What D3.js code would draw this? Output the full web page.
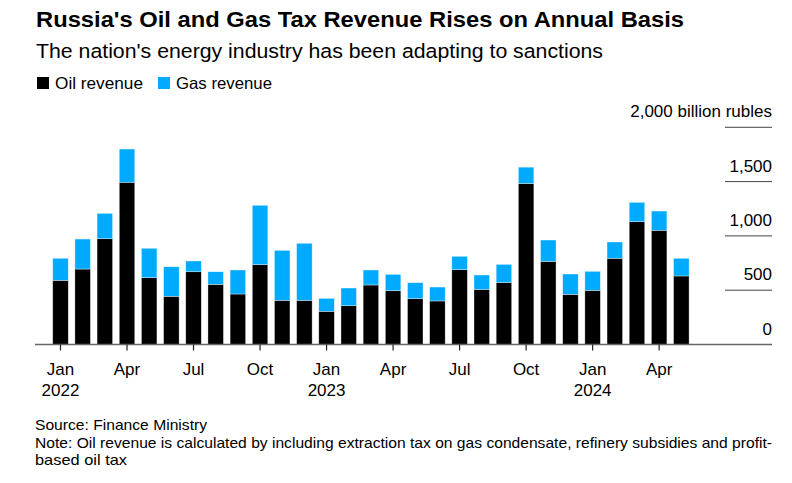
<!DOCTYPE html>
<html>
<head>
<meta charset="utf-8">
<script src="https://cdn.jsdelivr.net/npm/d3@7"></script>
<style>
  html, body { margin: 0; padding: 0; background: #fff; }
  svg { display: block; font-family: "Liberation Sans", Arial, Helvetica, sans-serif; }
</style>
</head>
<body>
<svg id="chart" width="792" height="483"></svg>
<script>
// ---- Data (billion rubles), Jan 2022 – May 2024 ----
const months = [
  "2022-01","2022-02","2022-03","2022-04","2022-05","2022-06","2022-07","2022-08","2022-09","2022-10","2022-11","2022-12",
  "2023-01","2023-02","2023-03","2023-04","2023-05","2023-06","2023-07","2023-08","2023-09","2023-10","2023-11","2023-12",
  "2024-01","2024-02","2024-03","2024-04","2024-05"
];
const oilRevenue = [591,695,974,1494,615,444,670,554,465,735,407,407,306,357,548,495,422,401,689,508,571,1483,766,462,499,794,1131,1052,631];
const gasRevenue = [203,276,234,306,271,272,99,116,221,547,460,525,119,163,138,151,147,128,123,132,167,150,196,187,175,150,178,177,163];
const seriesNames = ["Oil revenue", "Gas revenue"];
const seriesColors = ["#000000", "#00aaff"];
const yTicks = [0, 500, 1000, 1500, 2000];
const monthTickNames = {"01": "Jan", "04": "Apr", "07": "Jul", "10": "Oct"};

const title = "Russia's Oil and Gas Tax Revenue Rises on Annual Basis";
const subtitle = "The nation's energy industry has been adapting to sanctions";
const sourceText = "Source: Finance Ministry";
const noteLines = [
  "Note: Oil revenue is calculated by including extraction tax on gas condensate, refinery subsidies and profit-",
  "based oil tax"
];

// ---- Build table ----
const table = months.map((m, i) => ({ month: m, oil: oilRevenue[i], gas: gasRevenue[i] }));
const stack = d3.stack().keys(["oil", "gas"])(table);

const svg = d3.select("#chart");

// Scales
const x = d3.scaleBand().domain(months).range([49.4, 692.4]).paddingInner(0.3).paddingOuter(0.15);
const y = d3.scaleLinear().domain([0, 2000]).range([344.5, 127.3]);

// Title & subtitle
svg.append("text").attr("x", 36).attr("y", 27).attr("font-size", 21.5).attr("font-weight", "bold")
  .attr("fill", "#000").attr("textLength", 648).attr("lengthAdjust", "spacingAndGlyphs").text(title);
svg.append("text").attr("x", 36).attr("y", 58).attr("font-size", 20.5).attr("fill", "#000")
  .attr("textLength", 567).attr("lengthAdjust", "spacingAndGlyphs").text(subtitle);

// Legend
const legend = svg.append("g");
const legendX = [37, 158];
const legendW = [88, 96];
seriesNames.forEach((n, i) => {
  legend.append("rect").attr("x", legendX[i]).attr("y", 77).attr("width", 12).attr("height", 12).attr("fill", seriesColors[i]);
  legend.append("text").attr("x", legendX[i] + 18).attr("y", 89).attr("font-size", 16.5).attr("fill", "#000")
    .attr("textLength", legendW[i]).attr("lengthAdjust", "spacingAndGlyphs").text(n);
});

// Y gridlines (right side) and labels
const yAxisG = svg.append("g");
yTicks.forEach(t => {
  if (t !== 0) {
    yAxisG.append("line").attr("x1", 725).attr("x2", 772).attr("y1", y(t)).attr("y2", y(t))
      .attr("stroke", "#444").attr("stroke-width", 1);
  }
  yAxisG.append("text").attr("x", 772).attr("y", y(t) - 10).attr("text-anchor", "end")
    .attr("font-size", 17).attr("fill", "#000")
    .text(t === 2000 ? d3.format(",")(t) + " billion rubles" : d3.format(",")(t));
});

// Bars
const colorOf = { oil: seriesColors[0], gas: seriesColors[1] };
svg.append("g").selectAll("g").data(stack).join("g")
  .attr("fill", d => colorOf[d.key])
  .selectAll("rect").data(d => d).join("rect")
  .attr("x", d => x(d.data.month))
  .attr("width", x.bandwidth())
  .attr("y", d => y(d[1]))
  .attr("height", d => y(d[0]) - y(d[1]))
  .attr("stroke", "rgba(255,255,255,0.6)")
  .attr("stroke-width", 0.6);

// Baseline
svg.append("line").attr("x1", 35).attr("x2", 772).attr("y1", y(0)).attr("y2", y(0))
  .attr("stroke", "#666").attr("stroke-width", 1.5);

// X axis ticks and labels
const tickMonths = months.filter(m => monthTickNames[m.slice(5)]);
const xAxis = d3.axisBottom(x).tickValues(tickMonths).tickSize(6).tickPadding(12)
  .tickFormat(m => monthTickNames[m.slice(5)]);
const xg = svg.append("g").attr("transform", `translate(0,${y(0)})`).call(xAxis);
xg.select(".domain").remove();
xg.selectAll(".tick line").attr("stroke", "#222").attr("stroke-width", 1.2);
xg.selectAll(".tick text").attr("font-size", 17).attr("fill", "#000")
  .attr("font-family", "Liberation Sans, Arial, sans-serif");
xg.selectAll(".tick").filter(m => m.slice(5) === "01").append("text")
  .attr("y", 51.5).attr("text-anchor", "middle").attr("font-size", 17).attr("fill", "#000")
  .attr("font-family", "Liberation Sans, Arial, sans-serif")
  .text(m => m.slice(0, 4));

// Footer
svg.append("text").attr("x", 35).attr("y", 430).attr("font-size", 15).attr("fill", "#000")
  .attr("textLength", 172).attr("lengthAdjust", "spacingAndGlyphs").text(sourceText);
const noteW = [737, 92];
noteLines.forEach((l, i) => {
  svg.append("text").attr("x", 35).attr("y", 448 + i * 17).attr("font-size", 15).attr("fill", "#000")
    .attr("textLength", noteW[i]).attr("lengthAdjust", "spacingAndGlyphs").text(l);
});
</script>
</body>
</html>
